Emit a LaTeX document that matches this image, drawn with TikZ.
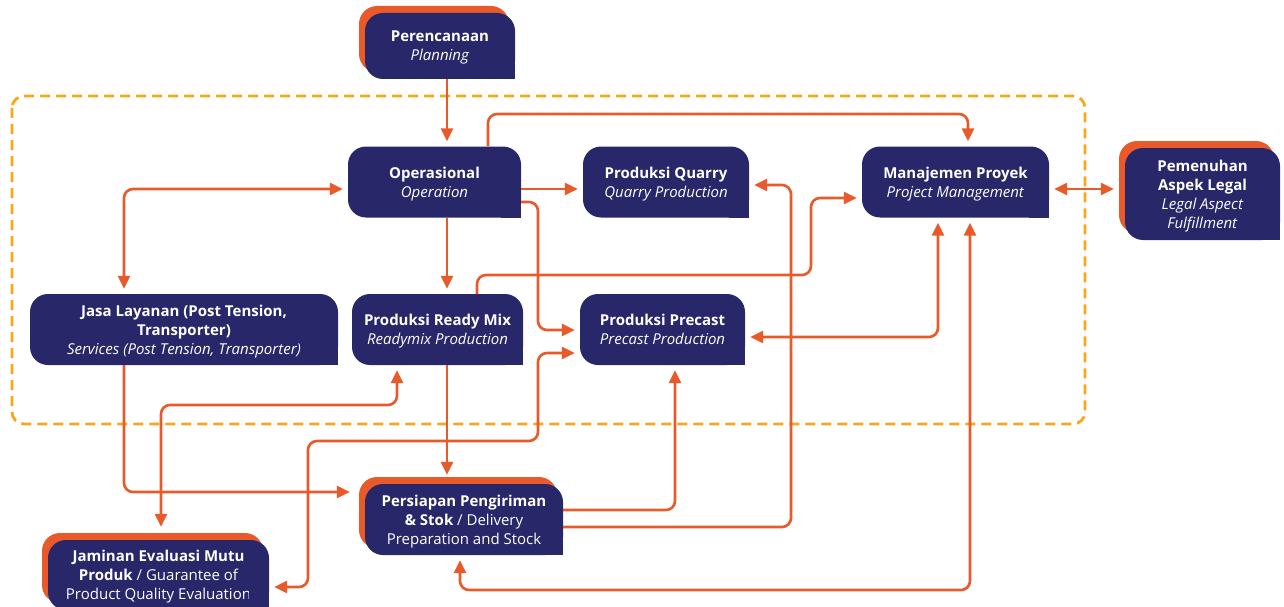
\documentclass[tikz,border=0pt]{standalone}
\usepackage{fontspec}
\setmainfont{Open Sans}
\usetikzlibrary{arrows.meta,shadows,calc}
\definecolor{navy}{HTML}{27276A}
\definecolor{org}{HTML}{E85A2A}
\definecolor{dashc}{HTML}{F9A61B}
\tikzset{
 box/.style={fill=navy, text=white, rounded corners=18pt, inner sep=0pt, text depth=0pt, align=center, font=\fontsize{15}{19}\selectfont},
 hbox/.style={box, drop shadow={shadow xshift=-6pt, shadow yshift=7pt, fill=org, opacity=1}},
 conn/.style={draw=org, line width=2.6pt, rounded corners=9pt, shorten >=5pt},
 tip/.style={-{Triangle[length=13pt,width=12pt]}},
 tips/.style={{Triangle[length=13pt,width=12pt]}-{Triangle[length=13pt,width=12pt]}, shorten <=5pt},
 frame/.style={draw=dashc, line width=2.8pt, dash pattern=on 10pt off 6pt, rounded corners=12pt},
}
\begin{document}
\begin{tikzpicture}[x=1pt,y=-1pt]
\useasboundingbox (0,0) rectangle (1284,607);
\draw[frame] (12,96) rectangle (1085,424);
% nodes
\node[hbox, minimum width=150pt, minimum height=66pt] (plan) at (440,46) {\textbf{Perencanaan}\\\textit{Planning}};
\node[box, minimum width=173pt, minimum height=71pt] (op) at (434.5,182) {\textbf{Operasional}\\\textit{Operation}};
\node[box, minimum width=166pt, minimum height=71pt] (qu) at (666,182) {\textbf{Produksi Quarry}\\\textit{Quarry Production}};
\node[box, minimum width=187pt, minimum height=71pt] (mp) at (955.5,182) {\textbf{Manajemen Proyek}\\\textit{Project Management}};
\node[hbox, minimum width=155pt, minimum height=92pt] (lg) at (1202.5,194) {\textbf{Pemenuhan}\\\textbf{Aspek Legal}\\\textit{Legal Aspect}\\\textit{Fulfillment}};
\node[box, minimum width=308pt, minimum height=71pt] (js) at (184,329.5) {\textbf{Jasa Layanan (Post Tension,}\\\textbf{Transporter)}\\\textit{Services (Post Tension, Transporter)}};
\node[box, minimum width=171pt, minimum height=71pt] (rm) at (437.5,329.5) {\textbf{Produksi Ready Mix}\\\textit{Readymix Production}};
\node[box, minimum width=165pt, minimum height=71pt] (pc) at (662.5,329.5) {\textbf{Produksi Precast}\\\textit{Precast Production}};
\node[hbox, minimum width=198pt, minimum height=71pt] (ps) at (464,519.5) {\textbf{Persiapan Pengiriman}\\\textbf{\& Stok} / Delivery\\Preparation and Stock};
\node[hbox, minimum width=221pt, minimum height=70pt] (jm) at (158.5,575) {\textbf{Jaminan Evaluasi Mutu}\\\textbf{Produk} / Guarantee of\\Product Quality Evaluation};
\foreach \n in {plan,op,qu,mp,lg,js,rm,pc,ps,jm}
  \fill[navy] (\n.south east) rectangle ++(-20pt,20pt);
% connectors
\draw[conn,tip] (plan.south -| 447,0) -- (op.north -| 447,0);
\draw[conn,tip] (op.north -| 488,0) -- (488,114) -- (968,114) -- (mp.north -| 968,0);
\draw[conn,tip] (op.east |- 0,189) -- (qu.west |- 0,189);
\draw[conn,tip] (op.east |- 0,202) -- (538,202) -- (538,330) -- (pc.west |- 0,330);
\draw[conn,tips] (js.north -| 124,0) -- (124,189) -- (op.west |- 0,189);
\draw[conn,tip] (op.south -| 447,0) -- (rm.north -| 447,0);
\draw[conn,tip] (rm.north -| 477,0) -- (477,275) -- (811,275) -- (811,198) -- (mp.west |- 0,198);
\draw[conn,tip] (ps.east |- 0,510) -- (675,510) -- (pc.south -| 675,0);
\draw[conn,tip] (ps.east |- 0,527) -- (791,527) -- (791,185) -- (qu.east |- 0,185);
\draw[conn,tips] (pc.east |- 0,337) -- (938,337) -- (mp.south -| 938,0);
\draw[conn,tips] (ps.south -| 460,0) -- (460,590) -- (970,590) -- (mp.south -| 970,0);
\draw[conn,tips,shorten >=11pt] (mp.east |- 0,189) -- (lg.west |- 0,189);
\draw[conn,tip,shorten >=9pt] (rm.south -| 447,0) -- (ps.north -| 447,0);
\draw[conn,tip,shorten >=15pt] (js.south -| 124,0) -- (124,492) -- (ps.west |- 0,492);
\draw[conn,tips,shorten >=13pt] (rm.south -| 397,0) -- (397,405) -- (161,405) -- (jm.north -| 161,0);
\draw[conn,tips] (jm.east |- 0,587) -- (308,587) -- (308,441) -- (538,441) -- (538,353) -- (pc.west |- 0,353);
\end{tikzpicture}
\end{document}
